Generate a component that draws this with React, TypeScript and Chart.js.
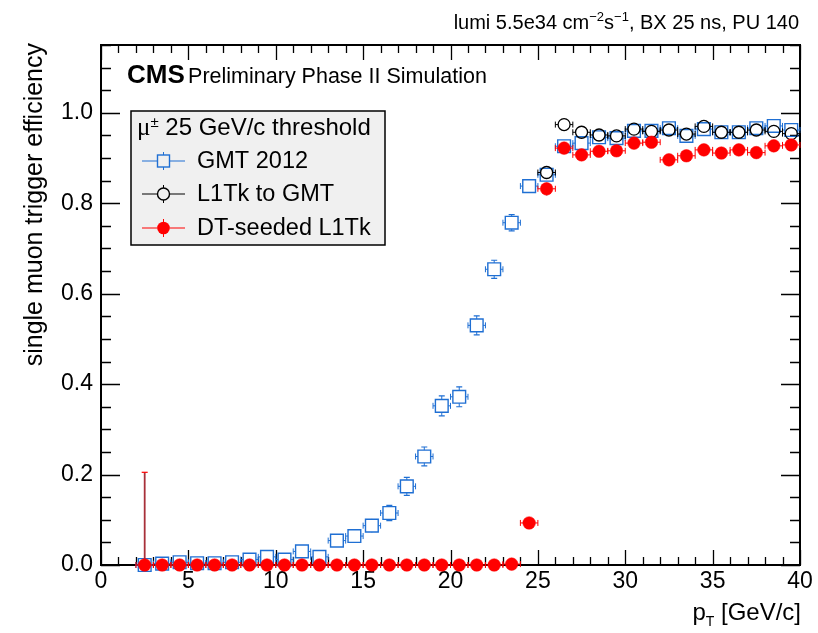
import React, { useEffect, useRef } from "react";
import { Chart, registerables } from "chart.js";

Chart.register(...registerables);

// ---------------- data ----------------
const ptBins = [
  2.5, 3.5, 4.5, 5.5, 6.5, 7.5, 8.5, 9.5, 10.5, 11.5, 12.5, 13.5, 14.5, 15.5, 16.5, 17.5, 18.5, 19.5, 20.5,
  21.5, 22.5, 23.5, 24.5, 25.5, 26.5, 27.5, 28.5, 29.5, 30.5, 31.5, 32.5, 33.5, 34.5, 35.5, 36.5, 37.5, 38.5, 39.5,
];
const binHalfWidth = 0.5;

const gmt2012 = [
  0.0, 0.003, 0.006, 0.004, 0.004, 0.006, 0.012, 0.018, 0.012, 0.03, 0.018, 0.054, 0.064, 0.087, 0.115, 0.174,
  0.24, 0.352, 0.372, 0.53, 0.654, 0.757, 0.838, 0.863, 0.926, 0.933, 0.946, 0.944, 0.96, 0.96, 0.966, 0.949,
  0.964, 0.957, 0.957, 0.966, 0.971, 0.962,
];
const gmt2012Err = [
  0.004, 0.004, 0.005, 0.005, 0.005, 0.005, 0.007, 0.008, 0.007, 0.01, 0.008, 0.012, 0.013, 0.015, 0.017, 0.02,
  0.021, 0.022, 0.022, 0.021, 0.02, 0.018, 0.015, 0.013, 0.009, 0.009, 0.008, 0.008, 0.007, 0.007, 0.007, 0.008,
  0.007, 0.007, 0.007, 0.007, 0.006, 0.007,
];

const l1tkToGmt = [
  null, null, null, null, null, null, null, null, null, null, null, null, null, null, null, null, null, null, null,
  null, null, null, null, 0.868, 0.974, 0.957, 0.951, 0.949, 0.964, 0.959, 0.962, 0.953, 0.97, 0.957, 0.957,
  0.962, 0.959, 0.954,
];
const l1tkToGmtErr = [
  0, 0, 0, 0, 0, 0, 0, 0, 0, 0, 0, 0, 0, 0, 0, 0, 0, 0, 0, 0, 0, 0, 0, 0.013, 0.008, 0.008, 0.008, 0.008, 0.007,
  0.007, 0.007, 0.008, 0.007, 0.007, 0.007, 0.007, 0.007, 0.007,
];

const dtSeeded = [
  0.0, 0.0, 0.0, 0.0, 0.0, 0.0, 0.0, 0.0, 0.0, 0.0, 0.0, 0.0, 0.0, 0.0, 0.0, 0.0, 0.0, 0.0, 0.0, 0.0, 0.0, 0.002,
  0.093, 0.832, 0.922, 0.907, 0.915, 0.916, 0.933, 0.935, 0.896, 0.905, 0.918, 0.911, 0.918, 0.912, 0.927, 0.929,
];
const dtSeededErrLow = [
  0, 0, 0, 0, 0, 0, 0, 0, 0, 0, 0, 0, 0, 0, 0, 0, 0, 0, 0, 0, 0, 0.002, 0.012, 0.015, 0.01, 0.01, 0.01, 0.01,
  0.009, 0.009, 0.01, 0.01, 0.009, 0.009, 0.009, 0.009, 0.009, 0.009,
];
const dtSeededErrHigh = [
  0.205, 0.003, 0.003, 0.003, 0.003, 0.003, 0.003, 0.003, 0.003, 0.003, 0.003, 0.003, 0.003, 0.003, 0.003, 0.003,
  0.003, 0.003, 0.003, 0.003, 0.003, 0.004, 0.013, 0.014, 0.009, 0.01, 0.01, 0.01, 0.009, 0.009, 0.01, 0.01,
  0.009, 0.009, 0.009, 0.009, 0.009, 0.009,
];

const xTickValues = [0, 5, 10, 15, 20, 25, 30, 35, 40];
const yTickValues = [0.0, 0.2, 0.4, 0.6, 0.8, 1.0];

const seriesNames = ["GMT 2012", "L1Tk to GMT", "DT-seeded L1Tk"];
const legendHeader = "25 GeV/c threshold";
const cmsLabel = "CMS";
const cmsSubLabel = "Preliminary Phase II Simulation";
const xTitle = ["p", "T", " [GeV/c]"];
const yTitle = "single muon trigger efficiency";

// ---------------- style ----------------
const FONT = "'Liberation Sans', Arial, Helvetica, sans-serif";
const BLUE = "#1f6fd3";
const RED = "#ff0000";
const DARKRED = "#a8303a";
const BLACK = "#000000";

function toPoints(vals: (number | null)[]) {
  return ptBins.map((x, i) => ({ x, y: vals[i] }));
}

type Seg = { t: string; font: string; dy?: number };
function drawRich(ctx: CanvasRenderingContext2D, segs: Seg[], x: number, y: number, align: "left" | "right") {
  ctx.save();
  ctx.textBaseline = "alphabetic";
  ctx.textAlign = "left";
  let total = 0;
  for (const s of segs) {
    ctx.font = s.font;
    total += ctx.measureText(s.t).width;
  }
  let cx = align === "right" ? x - total : x;
  for (const s of segs) {
    ctx.font = s.font;
    ctx.fillText(s.t, cx, y + (s.dy || 0));
    cx += ctx.measureText(s.t).width;
  }
  ctx.restore();
}

function drawErrorBars(chart: any, idx: number) {
  const ds: any = chart.data.datasets[idx];
  const xs = chart.scales.x;
  const ys = chart.scales.y;
  const ctx: CanvasRenderingContext2D = chart.ctx;
  const half = ds.markerHalf;
  const cap = 3;
  ctx.save();
  ctx.lineWidth = 1;
  ds.data.forEach((p: any, i: number) => {
    if (p.y == null) return;
    const px = xs.getPixelForValue(p.x);
    const py = ys.getPixelForValue(p.y);
    const xl = xs.getPixelForValue(p.x - binHalfWidth);
    const xr = xs.getPixelForValue(p.x + binHalfWidth);
    ctx.strokeStyle = ds.errColor;
    ctx.lineWidth = 1;
    ctx.beginPath();
    if (px - half > xl) {
      ctx.moveTo(xl, py);
      ctx.lineTo(px - half, py);
      ctx.moveTo(xl, py - cap);
      ctx.lineTo(xl, py + cap);
    }
    if (px + half < xr) {
      ctx.moveTo(px + half, py);
      ctx.lineTo(xr, py);
      ctx.moveTo(xr, py - cap);
      ctx.lineTo(xr, py + cap);
    }
    ctx.stroke();
    const yt = ys.getPixelForValue(p.y + ds.errHigh[i]);
    const yb = ys.getPixelForValue(p.y - ds.errLow[i]);
    ctx.strokeStyle = ds.vErrColor;
    ctx.lineWidth = ds.vErrWidth;
    ctx.beginPath();
    if (py - half > yt) {
      ctx.moveTo(px, py - half);
      ctx.lineTo(px, yt);
    }
    if (yb > py + half) {
      ctx.moveTo(px, py + half);
      ctx.lineTo(px, yb);
    }
    ctx.stroke();
    ctx.strokeStyle = ds.errColor;
    ctx.lineWidth = 1.2;
    ctx.beginPath();
    if (py - half - 1 > yt) {
      ctx.moveTo(px - cap, yt);
      ctx.lineTo(px + cap, yt);
    }
    if (yb > py + half + 1) {
      ctx.moveTo(px - cap, yb);
      ctx.lineTo(px + cap, yb);
    }
    ctx.stroke();
  });
  ctx.restore();
}

const rootPlugin = {
  id: "rootStyle",
  beforeDatasetsDraw(chart: any) {
    const ctx: CanvasRenderingContext2D = chart.ctx;
    const { left, right, top, bottom } = chart.chartArea;
    const xs = chart.scales.x;
    const ys = chart.scales.y;
    ctx.save();
    ctx.strokeStyle = "#000";
    ctx.lineWidth = 1.3;
    ctx.beginPath();
    // x ticks (bottom and top), major every 5, minor every 1
    for (let v = 0; v <= 40; v += 1) {
      const px = Math.round(xs.getPixelForValue(v)) + 0.5;
      const len = v % 5 === 0 ? 15 : 8;
      ctx.moveTo(px, bottom);
      ctx.lineTo(px, bottom - len);
      ctx.moveTo(px, top);
      ctx.lineTo(px, top + len);
    }
    // y ticks (left and right), major every 0.2, minor every 0.05
    for (let k = 0; k <= 23; k++) {
      const v = k * 0.05;
      const py = Math.round(ys.getPixelForValue(v)) + 0.5;
      const len = k % 4 === 0 ? 19 : 10;
      ctx.moveTo(left, py);
      ctx.lineTo(left + len, py);
      ctx.moveTo(right, py);
      ctx.lineTo(right - len, py);
    }
    ctx.stroke();
    ctx.lineWidth = 2;
    ctx.strokeRect(left, top, right - left, bottom - top);
    ctx.restore();
  },
  beforeDatasetDraw(chart: any, args: any) {
    drawErrorBars(chart, args.index);
  },
  afterDraw(chart: any) {
    const ctx: CanvasRenderingContext2D = chart.ctx;
    const { right, top } = chart.chartArea;
    ctx.save();
    ctx.fillStyle = "#000";
    // top-right header
    drawRich(
      ctx,
      [
        { t: "lumi 5.5e34 cm", font: `20px ${FONT}` },
        { t: "\u22122", font: `13px ${FONT}`, dy: -8 },
        { t: "s", font: `20px ${FONT}` },
        { t: "\u22121", font: `13px ${FONT}`, dy: -8 },
        { t: ", BX 25 ns, PU 140", font: `20px ${FONT}` },
      ],
      799,
      29,
      "right"
    );
    // CMS label
    drawRich(
      ctx,
      [
        { t: cmsLabel, font: `bold 26px ${FONT}` },
        { t: " ", font: `12px ${FONT}` },
        { t: cmsSubLabel, font: `21.5px ${FONT}` },
      ],
      127,
      83,
      "left"
    );
    // x title
    drawRich(
      ctx,
      [
        { t: xTitle[0], font: `24px ${FONT}` },
        { t: xTitle[1], font: `14px ${FONT}`, dy: 6 },
        { t: xTitle[2], font: `24px ${FONT}` },
      ],
      right + 1,
      620,
      "right"
    );
    // y title
    ctx.save();
    ctx.translate(42, top - 2);
    ctx.rotate(-Math.PI / 2);
    ctx.font = `25px ${FONT}`;
    ctx.textAlign = "right";
    ctx.textBaseline = "alphabetic";
    ctx.fillText(yTitle, 0, 0);
    ctx.restore();

    // legend
    const bx = 131, by = 111, bw = 254, bh = 134;
    ctx.fillStyle = "#f0f0f0";
    ctx.fillRect(bx, by, bw, bh);
    ctx.strokeStyle = "#000";
    ctx.lineWidth = 1.5;
    ctx.strokeRect(bx, by, bw, bh);
    ctx.fillStyle = "#000";
    drawRich(
      ctx,
      [
        { t: "\u03bc", font: `25px 'Liberation Serif', 'DejaVu Serif', serif` },
        { t: "\u00b1", font: `15px ${FONT}`, dy: -8 },
        { t: " " + legendHeader, font: `24px ${FONT}` },
      ],
      137,
      135,
      "left"
    );
    const rows = [161, 194, 228];
    const x0 = 142, x1 = 185, mx = 163.5;
    const colors = [BLUE, BLACK, RED];
    rows.forEach((ry, i) => {
      const half = 6;
      ctx.strokeStyle = colors[i];
      ctx.lineWidth = 1;
      ctx.beginPath();
      ctx.moveTo(x0, ry);
      ctx.lineTo(mx - half, ry);
      ctx.moveTo(mx + half, ry);
      ctx.lineTo(x1, ry);
      ctx.moveTo(mx, ry - half);
      ctx.lineTo(mx, ry - half - 3);
      ctx.moveTo(mx, ry + half);
      ctx.lineTo(mx, ry + half + 3);
      ctx.stroke();
      ctx.lineWidth = 1.4;
      if (i === 0) {
        ctx.strokeRect(mx - 6, ry - 6, 12, 12);
      } else if (i === 1) {
        ctx.beginPath();
        ctx.arc(mx, ry, 6, 0, Math.PI * 2);
        ctx.stroke();
      } else {
        ctx.fillStyle = RED;
        ctx.beginPath();
        ctx.arc(mx, ry, 6.3, 0, Math.PI * 2);
        ctx.fill();
      }
      ctx.fillStyle = "#000";
      ctx.font = `23.5px ${FONT}`;
      ctx.textAlign = "left";
      ctx.textBaseline = "middle";
      ctx.fillText(seriesNames[i], 197, ry + 1);
    });
    ctx.restore();
  },
};

export default function App() {
  const ref = useRef<HTMLCanvasElement | null>(null);
  useEffect(() => {
    if (!ref.current) return;
    const tickFont = { family: FONT, size: 23 };
    const chart = new Chart(ref.current, {
      type: "scatter",
      data: {
        datasets: [
          {
            label: seriesNames[0],
            data: toPoints(gmt2012),
            pointStyle: "rect",
            pointRadius: 9,
            pointBorderWidth: 1.4,
            borderColor: BLUE,
            backgroundColor: "rgba(0,0,0,0)",
            order: 2,
            clip: false,
            errHigh: gmt2012Err,
            errLow: gmt2012Err,
            errColor: BLUE,
            vErrColor: BLUE,
            vErrWidth: 1,
            markerHalf: 6.4,
          } as any,
          {
            label: seriesNames[1],
            data: toPoints(l1tkToGmt),
            pointStyle: "circle",
            pointRadius: 6,
            pointBorderWidth: 1.3,
            borderColor: BLACK,
            backgroundColor: "rgba(0,0,0,0)",
            order: 1,
            clip: false,
            errHigh: l1tkToGmtErr,
            errLow: l1tkToGmtErr,
            errColor: BLACK,
            vErrColor: BLACK,
            vErrWidth: 1,
            markerHalf: 6,
          } as any,
          {
            label: seriesNames[2],
            data: toPoints(dtSeeded),
            pointStyle: "circle",
            pointRadius: 6.3,
            pointBorderWidth: 0.5,
            borderColor: RED,
            backgroundColor: RED,
            order: 0,
            clip: false,
            errHigh: dtSeededErrHigh,
            errLow: dtSeededErrLow,
            errColor: RED,
            vErrColor: DARKRED,
            vErrWidth: 1.8,
            markerHalf: 6,
          } as any,
        ],
      },
      options: {
        animation: false,
        responsive: false,
        devicePixelRatio: 1,
        layout: { padding: { left: 0, right: 18, top: 45, bottom: 0 } },
        plugins: {
          legend: { display: false },
          tooltip: { enabled: false },
          title: { display: false },
        },
        scales: {
          x: {
            type: "linear",
            min: 0,
            max: 40,
            grid: { display: false, drawTicks: false },
            border: { display: false },
            ticks: {
              font: tickFont,
              color: "#000",
              padding: 3,
              maxRotation: 0,
              autoSkip: false,
              callback: (v: any) => String(v),
            },
            afterBuildTicks: (s: any) => {
              s.ticks = xTickValues.map((v) => ({ value: v }));
            },
            afterFit: (s: any) => {
              s.height = 68;
            },
          },
          y: {
            type: "linear",
            min: 0,
            max: 1.15,
            grid: { display: false, drawTicks: false },
            border: { display: false },
            ticks: {
              font: tickFont,
              color: "#000",
              padding: 8,
              autoSkip: false,
              callback: (v: any) => Number(v).toFixed(1),
            },
            afterBuildTicks: (s: any) => {
              s.ticks = yTickValues.map((v) => ({ value: v }));
            },
            afterFit: (s: any) => {
              s.width = 101;
            },
          },
        },
      },
      plugins: [rootPlugin],
    });
    return () => chart.destroy();
  }, []);
  return (
    <div style={{ position: "absolute", left: 0, top: 0, width: 818, height: 633, background: "#fff" }}>
      <canvas ref={ref} width={818} height={633} style={{ display: "block" }} />
    </div>
  );
}
